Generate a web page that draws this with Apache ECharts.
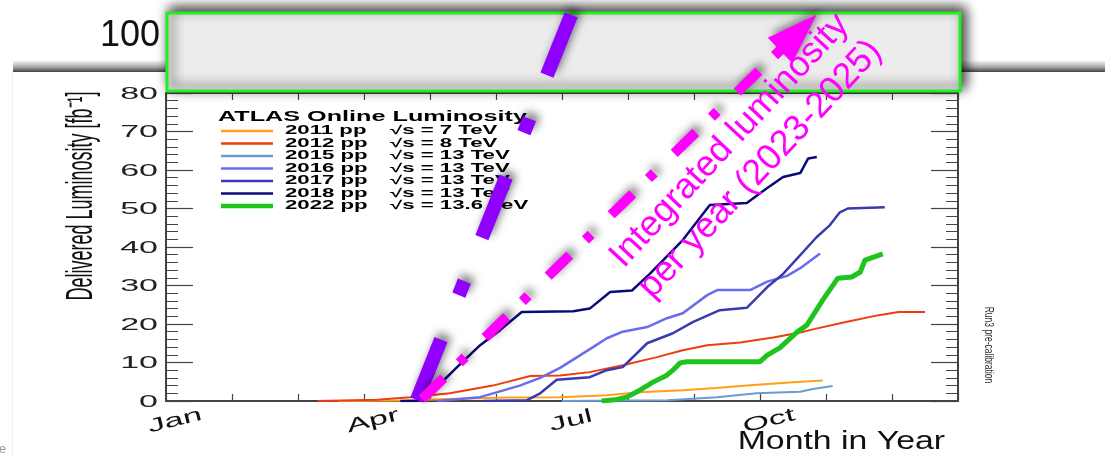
<!DOCTYPE html>
<html>
<head>
<meta charset="utf-8">
<script src="https://cdn.jsdelivr.net/npm/echarts@6/dist/echarts.min.js"></script>
<style>
  html, body { margin: 0; padding: 0; background: #fff; }
  #main { width: 1105px; height: 455px; }
</style>
</head>
<body>
<div id="main"></div>
<script>
// ---- data (x = months since Jan 1, y = delivered luminosity in fb^-1) ----
const seriesNames = ["2011 pp", "2012 pp", "2015 pp", "2016 pp", "2017 pp", "2018 pp", "2022 pp"];
const seriesEnergies = ["√s = 7 TeV", "√s = 8 TeV", "√s = 13 TeV", "√s = 13 TeV", "√s = 13 TeV", "√s = 13 TeV", "√s = 13.6 TeV"];

const months2011 = [2.6, 3.6, 4.4, 5.2, 5.97, 6.68, 7.18, 7.83, 8.33, 8.85, 9.5, 9.95];
const lumi2011 = [0, 0.1, 0.6, 0.9, 1.0, 1.5, 2.3, 2.8, 3.4, 4.1, 4.9, 5.3];

const months2012 = [2.3, 3.2, 3.7, 4.3, 4.95, 5.52, 5.97, 6.42, 6.92, 7.44, 7.83, 8.2, 8.7, 9.2, 9.61, 9.8, 10.3, 10.8, 11.1, 11.5];
const lumi2012 = [0, 0.3, 1, 2, 4, 6.5, 6.6, 7.5, 9.3, 11.4, 13.2, 14.5, 15.2, 16.5, 17.8, 18.6, 20.5, 22.3, 23.1, 23.1];

const months2015 = [6.0, 7.6, 8.35, 8.95, 9.61, 9.8, 10.1];
const lumi2015 = [0, 0.2, 1, 2, 2.4, 3.1, 3.9];

const months2016 = [4.1, 4.45, 4.76, 5.06, 5.36, 5.67, 5.97, 6.23, 6.47, 6.68, 6.92, 7.29, 7.59, 7.83, 8.2, 8.35, 8.85, 9.11, 9.41, 9.61, 9.91];
const lumi2016 = [0, 0.5, 1, 2.5, 4, 6, 8.6, 11.4, 14, 16.3, 18, 19.2, 21.5, 22.8, 27.5, 28.8, 28.8, 31, 32.5, 34.5, 38.3];

const months2017 = [4.8, 5.47, 5.67, 5.92, 6.42, 6.68, 6.92, 7.29, 7.68, 7.98, 8.39, 8.8, 9.11, 9.35, 9.86, 10.06, 10.21, 10.33, 10.89];
const lumi2017 = [0, 0.2, 2, 5.5, 6.2, 8, 8.8, 15, 17.6, 20.5, 23.6, 24.2, 29.6, 33, 42.6, 45.7, 49, 50, 50.3];

const months2018 = [3.55, 3.8, 3.95, 4.41, 4.76, 5.06, 5.39, 6.17, 6.42, 6.73, 7.06, 7.33, 7.83, 8.24, 8.8, 9.11, 9.35, 9.61, 9.73, 9.86];
const lumi2018 = [0, 0, 1, 8.8, 14.5, 18.4, 23.1, 23.3, 24, 28.3, 28.7, 33, 41.8, 50.9, 51.4, 55.3, 58.2, 59.2, 63, 63.4];

const months2022 = [6.6, 6.8, 6.98, 7.18, 7.38, 7.59, 7.68, 7.79, 7.89, 9.0, 9.11, 9.3, 9.56, 9.71, 9.95, 10.18, 10.39, 10.52, 10.59, 10.86];
const lumi2022 = [0, 0.3, 1, 2.8, 4.9, 6.7, 8, 9.9, 10.2, 10.2, 11.9, 13.8, 17.9, 19.7, 26.2, 31.9, 32.2, 33.5, 36.6, 38.2];

const monthsBySeries = [months2011, months2012, months2015, months2016, months2017, months2018, months2022];
const lumiBySeries = [lumi2011, lumi2012, lumi2015, lumi2016, lumi2017, lumi2018, lumi2022];

// axis labels
const yTickValues = [0, 10, 20, 30, 40, 50, 60, 70, 80];
const monthTickValues = [0, 3, 6, 9];
const monthTickNames = ["Jan", "Apr", "Jul", "Oct"];

// slide annotations, in the same month / luminosity space
const purpleArrowMonths = [3.8, 6.15];
const purpleArrowLumi = [0.26, 100.8];
const magentaArrowMonths = [3.88, 9.58];
const magentaArrowLumi = [0.52, 95.7];

// ---- styles ----
const lineColors = ["#ff9f1a", "#f03c0f", "#6b9bd1", "#6b6bf0", "#3a3ab0", "#0a0a78", "#1ec31e"];
const lineWidths = [2, 2, 2, 2.5, 2.5, 2.5, 5];
const legendWidths = [2.5, 2.5, 2.5, 2.5, 2.5, 2.5, 4.5];
const axisColor = "#444";
const shadow = { shadowBlur: 8, shadowColor: "rgba(0,0,0,0.5)", shadowOffsetX: 4, shadowOffsetY: -5 };

const dataSeries = seriesNames.map(function (name, i) {
  return {
    name: name,
    type: "line",
    symbol: "none",
    silent: true,
    z: 3,
    data: monthsBySeries[i].map(function (m, k) { return [m, lumiBySeries[i][k]]; }),
    lineStyle: { color: lineColors[i], width: lineWidths[i] },
  };
});

const purpleSeries = {
  type: "line",
  symbol: "none",
  silent: true,
  clip: false,
  z: 20,
  data: purpleArrowMonths.map(function (m, k) { return [m, purpleArrowLumi[k]]; }),
  lineStyle: Object.assign({ color: "#8f00ff", width: 14, type: [65, 48, 15, 47], cap: "butt" }, shadow),
};

const magentaSeries = {
  type: "line",
  symbol: "none",
  showSymbol: true,
  silent: true,
  clip: false,
  z: 21,
  data: [
    [magentaArrowMonths[0], magentaArrowLumi[0]],
    {
      value: [magentaArrowMonths[1], magentaArrowLumi[1]],
      symbol: "triangle",
      symbolSize: [35, 51],
      symbolRotate: -45.8,
      itemStyle: Object.assign({ color: "#ff00ff" }, shadow),
    },
  ],
  lineStyle: Object.assign({ color: "#ff00ff", width: 10, type: [30, 22, 8, 28], cap: "butt" }, shadow),
};

function valueAxis(pos, min, max, interval, isY) {
  return {
    type: "value",
    position: pos,
    min: min,
    max: max,
    interval: interval,
    axisLine: { show: true, onZero: false, lineStyle: { color: axisColor, width: 2 } },
    axisTick: { show: true, inside: true, length: isY ? 27 : 7, lineStyle: { color: axisColor, width: 1.2 } },
    minorTick: { show: isY, splitNumber: 5, length: 12, lineStyle: { color: axisColor, width: 1 } },
    axisLabel: { show: false },
    splitLine: { show: false },
  };
}

const option = {
  animation: false,
  backgroundColor: "#fff",
  grid: { left: 166, right: 147, top: 93, bottom: 54 },
  xAxis: [valueAxis("bottom", 0, 12, 1, false), valueAxis("top", 0, 12, 1, false)],
  yAxis: [valueAxis("left", 0, 80, 10, true), valueAxis("right", 0, 80, 10, true)],
  series: dataSeries.concat([purpleSeries, magentaSeries]),
};

const chart = echarts.init(document.getElementById("main"));
chart.setOption(option);

// ---- text and slide decorations ----
const font = "Liberation Sans, Arial, sans-serif";
const graphics = [
  // shadow along the top edge of the pasted picture
  {
    type: "rect", z: -10, silent: true,
    shape: { x: 13, y: 60, width: 1100, height: 12 },
    style: {
      fill: new echarts.graphic.LinearGradient(0, 0, 0, 1, [
        { offset: 0, color: "rgba(0,0,0,0)" },
        { offset: 0.6, color: "rgba(0,0,0,0.35)" },
        { offset: 1, color: "rgba(0,0,0,0.75)" },
      ]),
    },
  },
  {
    type: "line", z: -10, silent: true,
    shape: { x1: 12.5, y1: 72, x2: 12.5, y2: 455 },
    style: { stroke: "#eeeeee", lineWidth: 1 },
  },
  // grey box above the plot
  {
    type: "rect", z: 5, silent: true,
    shape: { x: 167, y: 13, width: 793, height: 78 },
    style: { fill: "#ececec", stroke: "#22ee22", lineWidth: 3, shadowBlur: 12, shadowOffsetX: 4, shadowOffsetY: -4, shadowColor: "rgba(0,0,0,0.8)" },
  },
  {
    type: "text", z: 6, x: 160, y: 36,
    style: { text: "100", fontFamily: font, fontSize: 36, fill: "#111", align: "right", verticalAlign: "middle" },
  },
  // legend title
  {
    type: "text", z: 6, x: 218, y: 117, scaleX: 1.8,
    style: { text: "ATLAS Online Luminosity", fontFamily: font, fontWeight: "bold", fontSize: 14, fill: "#000", align: "left", verticalAlign: "middle" },
  },
  // axis titles
  {
    type: "text", z: 6, x: 82, y: 196, rotation: Math.PI / 2, scaleY: 2,
    style: { text: "Delivered Luminosity [fb⁻¹]", fontFamily: font, fontSize: 18, fill: "#111", align: "center", verticalAlign: "middle" },
  },
  {
    type: "text", z: 6, x: 945, y: 442, scaleX: 1.3,
    style: { text: "Month in Year", fontFamily: font, fontSize: 26, fill: "#111", align: "right", verticalAlign: "middle" },
  },
  {
    type: "text", z: 6, x: 989, y: 345, rotation: -Math.PI / 2, scaleY: 1.5,
    style: { text: "Run3 pre-calibration", fontFamily: font, fontSize: 8.5, fill: "#333", align: "center", verticalAlign: "middle" },
  },
  // slide annotation text
  {
    type: "text", z: 25, x: 745, y: 155, rotation: 47 * Math.PI / 180,
    style: { text: "Integrated luminosity\nper year (2023-2025)", fontFamily: font, fontSize: 36, lineHeight: 42, fill: "#ff00ff", align: "center", verticalAlign: "middle" },
  },
  {
    type: "text", z: 6, x: -1, y: 449,
    style: { text: "e", fontFamily: font, fontSize: 13, fill: "#999", align: "left", verticalAlign: "middle" },
  },
];

// legend rows
seriesNames.forEach(function (name, i) {
  const y = 131 + 12.5 * i;
  graphics.push({
    type: "line", z: 6, silent: true,
    shape: { x1: 221, y1: y, x2: 273, y2: y },
    style: { stroke: lineColors[i], lineWidth: legendWidths[i] },
  });
  graphics.push({
    type: "text", z: 6, x: 285, y: y, scaleX: 1.85,
    style: { text: name, fontFamily: font, fontWeight: "bold", fontSize: 12, fill: "#000", align: "left", verticalAlign: "middle" },
  });
  graphics.push({
    type: "text", z: 6, x: 390, y: y, scaleX: 1.85,
    style: { text: seriesEnergies[i], fontFamily: font, fontWeight: "bold", fontSize: 12, fill: "#000", align: "left", verticalAlign: "middle" },
  });
});

// tick labels placed through the axes
yTickValues.forEach(function (v) {
  const p = chart.convertToPixel({ xAxisIndex: 0, yAxisIndex: 0 }, [0, v]);
  graphics.push({
    type: "text", z: 6, x: p[0] - 8, y: p[1] + 1, scaleX: 2,
    style: { text: String(v), fontFamily: font, fontSize: 17, fill: "#222", align: "right", verticalAlign: "middle" },
  });
});
monthTickValues.forEach(function (m, i) {
  const p = chart.convertToPixel({ xAxisIndex: 0, yAxisIndex: 0 }, [m, 0]);
  graphics.push({
    type: "text", z: 6, x: p[0] + 9, y: p[1] + 20, scaleX: 1.8, rotation: 14 * Math.PI / 180,
    style: { text: monthTickNames[i], fontFamily: font, fontSize: 19, fill: "#111", align: "center", verticalAlign: "middle" },
  });
});

chart.setOption({ graphic: graphics });
</script>
</body>
</html>
